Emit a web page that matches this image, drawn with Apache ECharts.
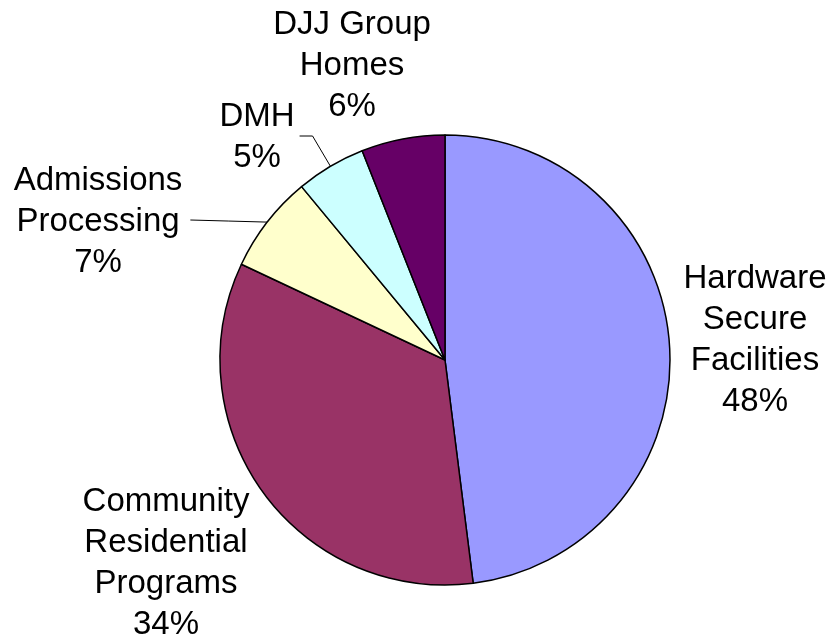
<!DOCTYPE html>
<html>
<head>
<meta charset="utf-8">
<script src="https://cdn.jsdelivr.net/npm/echarts@6/dist/echarts.min.js"></script>
<style>
html,body{margin:0;padding:0;background:#fff;}
#chart{width:831px;height:640px;}
</style>
</head>
<body>
<div id="chart"></div>
<script>
// Data
const categories = [
  'Hardware\nSecure\nFacilities',
  'Community\nResidential\nPrograms',
  'Admissions\nProcessing',
  'DMH',
  'DJJ Group\nHomes'
];
const values = [48, 34, 7, 5, 6];
const colors = ['#9999FF', '#993366', '#FFFFCC', '#CCFFFF', '#660066'];

// Label placement (layout, not data)
const labelCenters = [[755, 340], [166, 563], [98, 222], [257, 137], [352, 66]];
const showLine = [false, false, true, true, false];

const chart = echarts.init(document.getElementById('chart'), null, {renderer: 'canvas'});
chart.setOption({
  animation: false,
  backgroundColor: '#ffffff',
  series: [{
    type: 'pie',
    center: [445, 360],
    radius: 225,
    startAngle: 90,
    clockwise: true,
    avoidLabelOverlap: false,
    data: categories.map((n, i) => ({
      name: n,
      value: values[i],
      itemStyle: {color: colors[i]},
      labelLine: {show: showLine[i]}
    })),
    itemStyle: {borderColor: '#000', borderWidth: 1.5},
    label: {
      show: true,
      position: 'outside',
      formatter: '{b}\n{d}%',
      fontFamily: 'Liberation Sans, Arial, sans-serif',
      fontSize: 33,
      lineHeight: 41,
      color: '#000',
      align: 'center'
    },
    labelLine: {
      lineStyle: {color: '#000', width: 1}
    },
    labelLayout: function (p) {
      const i = p.dataIndex;
      const c = labelCenters[i];
      const res = {x: c[0], y: c[1], align: 'center', verticalAlign: 'middle'};
      if (showLine[i] && p.labelLinePoints) {
        const a = p.labelLinePoints[0];
        const r = p.labelRect;
        const halfW = r.width / 2;
        if (i === 3) {
          res.labelLinePoints = [a, [c[0] + halfW + 18, c[1] - 1], [c[0] + halfW + 5, c[1] - 1]];
        } else {
          const e = [c[0] + halfW + 8, c[1] - 2];
          res.labelLinePoints = [a, [(a[0] + e[0]) / 2, (a[1] + e[1]) / 2], e];
        }
      }
      return res;
    },
    emphasis: {disabled: true}
  }]
});
</script>
</body>
</html>
